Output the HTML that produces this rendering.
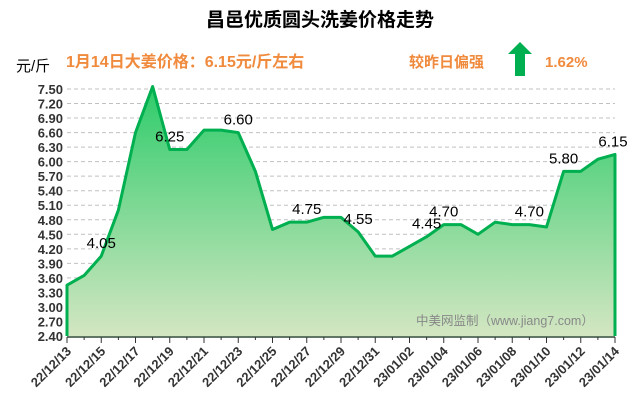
<!DOCTYPE html>
<html><head><meta charset="utf-8"><style>
body{margin:0;background:#fff;width:640px;height:410px;overflow:hidden}
svg{display:block}
text{font-family:"Liberation Sans","Noto Sans CJK SC",sans-serif}
</style></head><body>
<svg id="chart" width="640" height="410" viewBox="0 0 640 410">
<defs><linearGradient id="g" x1="0" y1="0" x2="0" y2="1">
<stop offset="0" stop-color="#2ecc6a"/><stop offset="1" stop-color="#d3e6c2"/></linearGradient></defs>
<text x="320" y="26" text-anchor="middle" font-size="19" font-weight="bold" fill="#000">昌邑优质圆头洗姜价格走势</text>
<text x="16" y="71" font-size="15" fill="#000">元/斤</text>
<text x="66" y="67" font-size="16" font-weight="bold" fill="#f08a3c">1月14日大姜价格：6.15元/斤左右</text>
<text x="409" y="67" font-size="15" font-weight="bold" fill="#f08a3c">较昨日偏强</text>
<polygon points="429,42 441,54 434,54 434,76 424,76 424,54 417,54" fill="#00b050" transform="translate(91,0)"/>
<text x="545" y="67" font-size="15" font-weight="bold" fill="#f08a3c">1.62%</text>
<g id="grid"></g><g id="plot"></g><g id="axes"></g>
<text x="416" y="325" font-size="12.5" fill="#888">中美网监制（www.jiang7.com）</text>
</svg>
<script>
const categories=["22/12/13","22/12/14","22/12/15","22/12/16","22/12/17","22/12/18","22/12/19","22/12/20","22/12/21","22/12/22","22/12/23","22/12/24","22/12/25","22/12/26","22/12/27","22/12/28","22/12/29","22/12/30","22/12/31","23/01/01","23/01/02","23/01/03","23/01/04","23/01/05","23/01/06","23/01/07","23/01/08","23/01/09","23/01/10","23/01/11","23/01/12","23/01/13","23/01/14"];
const prices=[3.45,3.65,4.05,5.0,6.6,7.55,6.25,6.25,6.65,6.65,6.6,5.8,4.6,4.75,4.75,4.85,4.85,4.55,4.05,4.05,4.25,4.45,4.7,4.7,4.5,4.75,4.7,4.7,4.65,5.8,5.8,6.05,6.15];
const labelIdx=[2,6,10,14,17,21,22,27,29,32];
const yTicks=[2.4,2.7,3.0,3.3,3.6,3.9,4.2,4.5,4.8,5.1,5.4,5.7,6.0,6.3,6.6,6.9,7.2,7.5];
const yMin=2.4,yMax=7.5,X0=67,X1=615,Y0=336,Y1=89;
const x=i=>X0+(X1-X0)*i/(categories.length-1);
const y=v=>Y0-(v-yMin)/(yMax-yMin)*(Y0-Y1);
const NS="http://www.w3.org/2000/svg";
function mk(p,tag,a){const e=document.createElementNS(NS,tag);for(const k in a)e.setAttribute(k,a[k]);p.appendChild(e);return e;}
const grid=document.getElementById('grid'),plot=document.getElementById('plot'),axes=document.getElementById('axes');
yTicks.forEach(v=>{
 if(v>yMin){const l=mk(grid,'line',{x1:X0,x2:X1,y1:y(v),y2:y(v),stroke:'#c0c0c0','stroke-dasharray':'4,3'});
 
 }
 const t=mk(axes,'text',{x:63,y:y(v)+5,'text-anchor':'end','font-size':'13','font-weight':'bold',fill:'#333'});
 t.textContent=v.toFixed(2);
 
 
});
let pts=prices.map((v,i)=>x(i)+','+y(v)).join(' ');
const area=mk(plot,'polygon',{points:X0+','+Y0+' '+pts+' '+X1+','+Y0,fill:'url(#g)'});


const line=mk(plot,'polyline',{points:X0+','+Y0+' '+pts+' '+X1+','+Y0,fill:'none',stroke:'#00b050','stroke-width':'3','stroke-linejoin':'round'});


labelIdx.forEach(i=>{
 const t=mk(plot,'text',{x:x(i)+(i==32?-2:0),y:y(prices[i])-8,'text-anchor':'middle','font-size':'15',fill:'#000'});
 t.textContent=prices[i].toFixed(2);
 
 
});
const ax=mk(axes,'line',{x1:X0,x2:X1,y1:Y0+1,y2:Y0+1,stroke:'#2a4a30','stroke-width':'1.5'});


categories.forEach((c,i)=>{
 const tk=mk(axes,'line',{x1:x(i),x2:x(i),y1:Y0+1,y2:Y0+(i%2?4:7),stroke:'#333'});
 
 
 if(i%2==0){
  const t=mk(axes,'text',{x:x(i)+5,y:Y0+16,'text-anchor':'end','font-size':'13','font-weight':'bold',fill:'#333',transform:`rotate(-45 ${x(i)+5} ${Y0+16})`});
  t.textContent=c;
  
  
 }
});
</script>
</body></html>
